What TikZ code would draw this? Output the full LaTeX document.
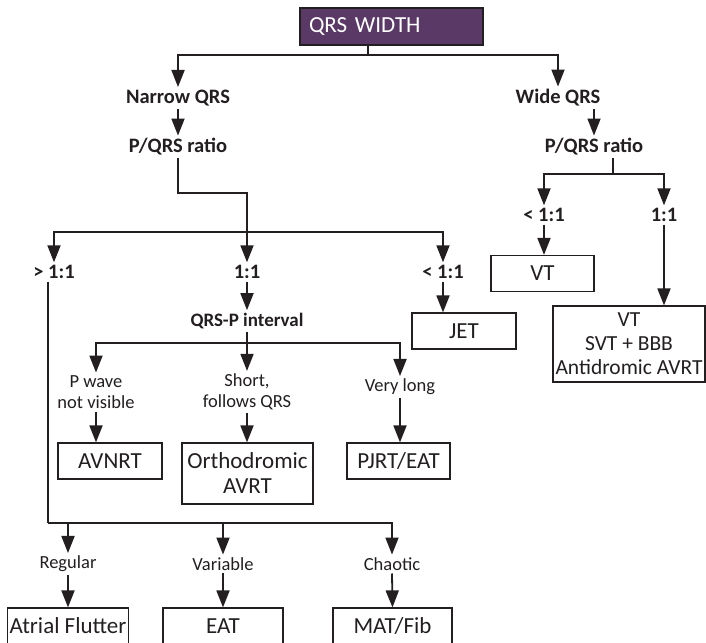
\documentclass[tikz,border=0pt]{standalone}
\usepackage{fontspec}
\setmainfont{Carlito}
\usetikzlibrary{arrows.meta}
\definecolor{qrspurple}{RGB}{90,57,102}
\definecolor{ink}{RGB}{35,31,32}

\begin{document}
\begin{tikzpicture}[x=1pt,y=-1pt,
    every node/.style={text=ink},
    arr/.style={ink, line width=1.8pt, -{Triangle[length=17pt,width=13pt]}},
    wire/.style={ink, line width=1.8pt},
    lbl/.style={font=\fontsize{20.5}{22}\selectfont\bfseries, inner sep=2pt, outer sep=1pt},
    sublbl/.style={font=\fontsize{18.5}{21}\selectfont, align=center, inner sep=2pt, outer sep=1pt},
    dxbox/.style={draw=ink, line width=1.2pt, font=\fontsize{23}{25}\selectfont, align=center, inner sep=2pt, minimum height=36pt}]
            \useasboundingbox (0,0) rectangle (706,642);
            \clip (0,0) rectangle (706,642);

            \node[draw=ink, line width=1.2pt, fill=qrspurple, text=white, font=\fontsize{23}{25}\selectfont, minimum width=183pt, minimum height=37pt, text width=165pt, align=left, inner xsep=9pt] (title) at (391.5,26.5) {QRS WIDTH};
            \coordinate (tj) at (368,55);
            \node[lbl] (narrow) at (178,98) {Narrow QRS};
            \node[lbl] (wide) at (558,98) {Wide QRS};
            \node[lbl] (nratio) at (178,147) {P/QRS ratio};
            \node[lbl] (wratio) at (594,147) {P/QRS ratio};
            \draw[wire] (title.south -| tj) -- (tj);
            \draw[arr] (tj) -| (narrow.north);
            \draw[arr] (tj) -| (wide.north);
            \draw[arr] (narrow.south) -- (nratio.north);
            \draw[arr] (wratio.north |- wide.south) -- (wratio.north);

            \coordinate (wj) at (613,174);
            \node[lbl] (wlt) at (544,215) {< 1:1};
            \node[lbl] (weq) at (664,215) {1:1};
            \draw[wire] (wratio.south -| wj) -- (wj);
            \draw[arr] (wj) -| (wlt.north);
            \draw[arr] (wj) -| (weq.north);
            \node[dxbox, minimum width=103pt] (vtbox) at (542.5,273.5) {VT};
            \node[dxbox, minimum width=152pt, minimum height=76pt, font=\fontsize{21.5}{24}\selectfont] (wbox) at (629,344) {VT\\SVT + BBB\\Antidromic AVRT};
            \draw[arr] (wlt.south) -- (wlt.south |- vtbox.north);
            \draw[arr] (weq.south) -- (weq.south |- wbox.north);

            \coordinate (nk) at (178,193);
            \coordinate (nj) at (247,232);
            \node[lbl] (ngt) at (54,272) {> 1:1};
            \node[lbl] (neq) at (247,272) {1:1};
            \node[lbl] (nlt) at (443,272) {< 1:1};
            \draw[wire] (nratio.south) -- (nk) -| (nj);
            \draw[arr] (nj) -| (ngt.north);
            \draw[arr] (nj) -- (neq.north);
            \draw[arr] (nj) -| (nlt.north);
            \node[dxbox, minimum width=104pt] (jet) at (464,331) {JET};
            \draw[arr] (nlt.south) -- (nlt.south |- jet.north);

            \node[lbl, font=\fontsize{19}{21}\selectfont\bfseries] (qrsp) at (247,321) {QRS-P interval};
            \draw[arr] (neq.south) -- (qrsp.north);
            \coordinate (qj) at (247,343);
            \draw[wire] (qrsp.south) -- (qj);
            \node[sublbl] (pwave) at (96,392) {P wave\\not visible};
            \node[sublbl] (short) at (247,392) {Short,\\follows QRS};
            \node[sublbl] (vlong) at (400,387) {Very long};
            \draw[arr] (qj) -| (pwave.north);
            \draw[arr] (qj) -- (short.north);
            \draw[arr] (qj) -| (vlong.north);
            \node[dxbox, minimum width=104pt] (avnrt) at (110,461) {AVNRT};
            \node[dxbox, minimum width=131pt, minimum height=61pt] (ortho) at (247.5,473.5) {Orthodromic\\AVRT};
            \node[dxbox, minimum width=103pt] (pjrt) at (398.5,461) {PJRT/EAT};
            \draw[arr] (pwave.south) -- (pwave.south |- avnrt.north);
            \draw[arr] (short.south) -- (short.south |- ortho.north);
            \draw[arr] (vlong.south) -- (vlong.south |- pjrt.north);

            \coordinate (ga) at (48,523);
            \node[sublbl] (regular) at (68,564) {Regular};
            \node[sublbl] (variable) at (223,564) {Variable};
            \node[sublbl] (chaotic) at (392,564) {Chaotic};
            \draw[wire] (ngt.south -| ga) -- (ga);
            \draw[arr] (ga) -| (chaotic.north);
            \draw[arr] (ga -| regular) -- (regular.north);
            \draw[arr] (ga -| variable) -- (variable.north);
            \node[dxbox, minimum width=120pt] (flutter) at (68,626) {Atrial Flutter};
            \node[dxbox, minimum width=120pt] (eat) at (223,626) {EAT};
            \node[dxbox, minimum width=119pt] (mat) at (392.5,626) {MAT/Fib};
            \draw[arr] (regular.south) -- (flutter.north);
            \draw[arr] (variable.south) -- (eat.north);
            \draw[arr] (chaotic.south) -- (mat.north);
        \end{tikzpicture}
\end{document}
